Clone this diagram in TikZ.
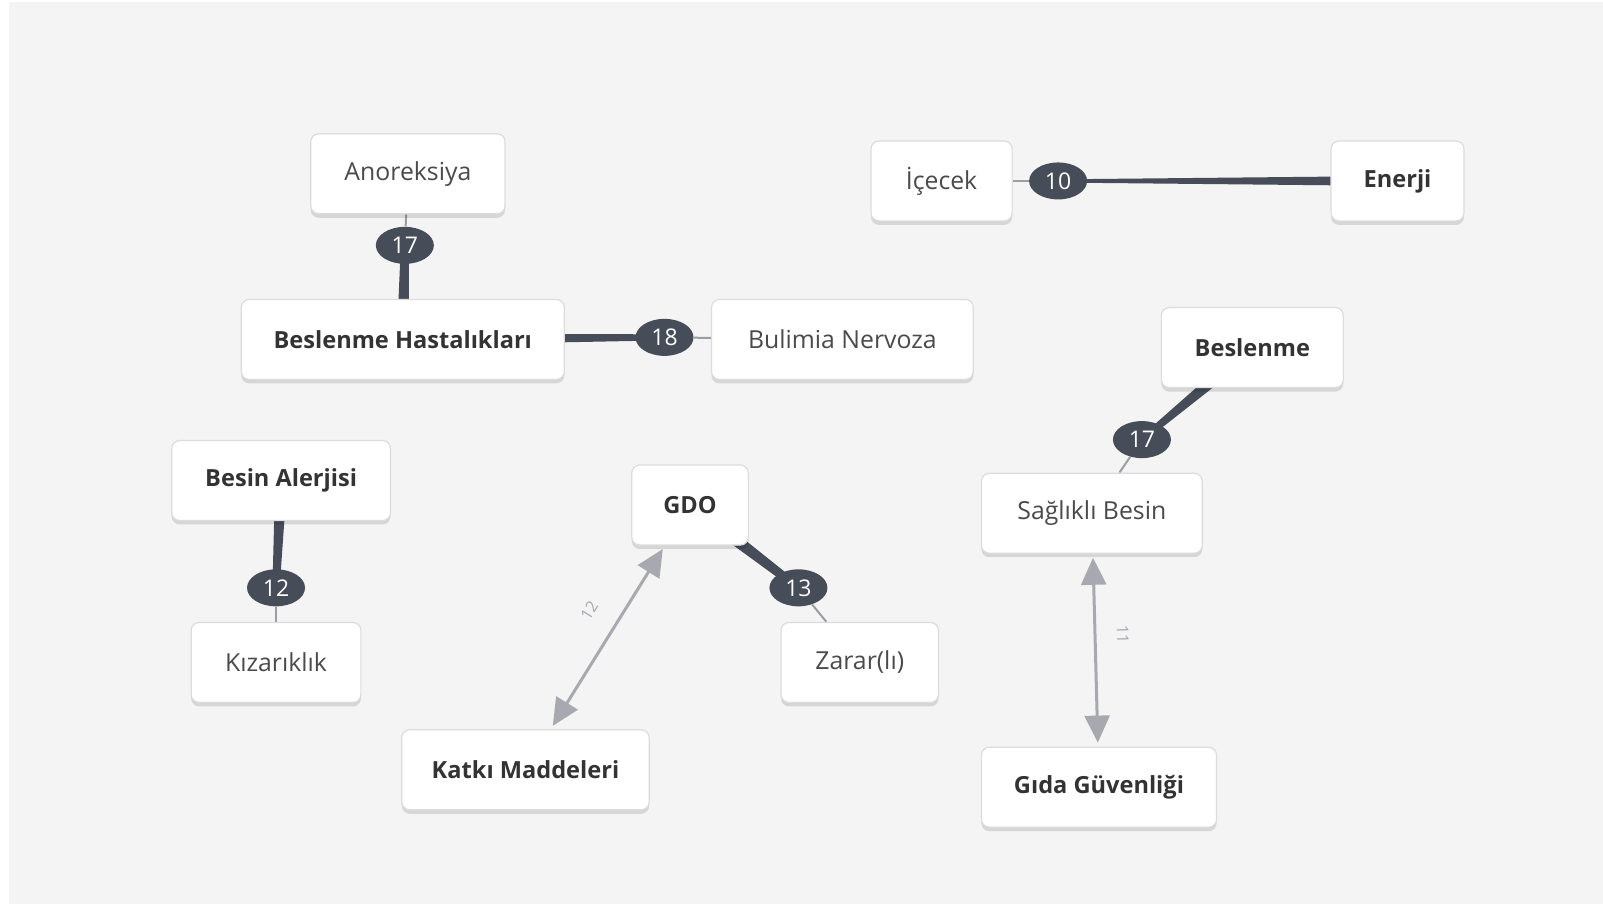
\documentclass[tikz,border=0pt]{standalone}
\usepackage{fontspec}
\setmainfont{Open Sans}
\usetikzlibrary{calc,arrows.meta,shapes.geometric,shadows,backgrounds}

\definecolor{canvas}{HTML}{F4F4F4}
\definecolor{badgefill}{HTML}{474C59}
\definecolor{linkgray}{HTML}{9A9DA3}
\definecolor{arrowgray}{HTML}{A8A9B0}
\definecolor{textdark}{HTML}{333333}
\definecolor{textsoft}{HTML}{4A4A4A}
\definecolor{boxline}{HTML}{DCDCDC}

\tikzstyle{concept}=[rectangle,rounded corners=4pt,draw=boxline,line width=0.6pt,
  fill=white,minimum height=40pt,inner sep=0pt,
  text=textsoft,font=\fontsize{12.4}{14}\selectfont,
  drop shadow={shadow xshift=0pt,shadow yshift=-2pt,opacity=0.12,fill=black}]
\tikzstyle{bold concept}=[concept,text=textdark,font=\fontsize{11.8}{14}\selectfont\bfseries]
\tikzstyle{badge}=[ellipse,fill=badgefill,text=white,minimum width=29pt,
  minimum height=18.5pt,inner sep=0pt,font=\fontsize{11.5}{13}\selectfont]
\tikzstyle{thin link}=[draw=linkgray,line width=1pt]
\tikzstyle{mutual edge}=[draw=arrowgray,line width=1.5pt,
  {Triangle[width=12.5pt,length=13.5pt]}-{Triangle[width=12.5pt,length=13.5pt]},
  shorten <=2pt,shorten >=2pt]
\tikzstyle{weight}=[font=\fontsize{8}{9}\selectfont,text=arrowgray,sloped]

% tapered connector: #1 wide end, #2 narrow end, half widths #3 and #4
\newcommand{\taper}[4]{%
  \fill[badgefill] ($(#1)!#3!90:(#2)$) -- ($(#1)!#3!-90:(#2)$)
    -- ($(#2)!#4!90:(#1)$) -- ($(#2)!#4!-90:(#1)$) -- cycle;}

\begin{document}
\begin{tikzpicture}[x=0.5112pt,y=-0.5112pt]
\useasboundingbox (0,0) rectangle (1568,884);
\begin{scope}[on background layer]
  \fill[white] (0,0) rectangle (1568,884);
  \fill[canvas] (9,2) rectangle (1568,884);
\end{scope}

\foreach \pos/\name/\txt/\w/\isbold in {{(399,170)/anor/Anoreksiya/95/0},
    {(394,332)/bhast/Beslenme Hastalıkları/158/1}, {(824,332)/bulim/Bulimia Nervoza/128/0},
    {(921,177)/icecek/İçecek/69/0}, {(1367,177)/enerji/Enerji/65/1},
    {(1225,340)/beslen/Beslenme/89/1}, {(1068,502)/saglik/Sağlıklı Besin/108/0},
    {(1075,770)/guven/Gıda Güvenliği/115/1}, {(275,470)/alerji/Besin Alerjisi/107/1},
    {(270,648)/kizar/Kızarıklık/83/0}, {(675,494)/gdo/GDO/57/1},
    {(841,648)/zarar/Zarar(lı)/77/0}, {(514,753)/katki/Katkı Maddeleri/121/1}}{
  \ifnum\isbold=0
  \node[concept,minimum width=1.0225*\w pt] (\name) at \pos {\txt};
  \else
  \node[bold concept,minimum width=1.0225*\w pt] (\name) at \pos {\txt};
  \fi
}

\foreach \pos/\name/\num in {{(396,240)/bA/17}, {(650,330)/bB/18}, {(1035,177)/bC/10},
    {(1117,430)/bD/17}, {(270,575)/bE/12}, {(781,575)/bF/13}}{
  \node[badge] (\name) at \pos {\num};
}

\begin{scope}[on background layer]
\foreach \strong/\bdg/\weak/\wa/\wb in {bhast/bA/anor/3pt/2pt, bhast/bB/bulim/3pt/1.5pt,
    enerji/bC/icecek/2.5pt/0.8pt, beslen/bD/saglik/3.5pt/1.5pt,
    alerji/bE/kizar/3pt/1.8pt, gdo/bF/zarar/3.5pt/2pt}{
  \taper{\strong}{\bdg}{\wa}{\wb}
  \path[thin link] (\bdg) -- (\weak);
}
\end{scope}

\path[mutual edge] (katki) -- node[weight,pos=0.56,above=8pt] {12} (gdo);
\path[mutual edge] (saglik) -- node[weight,pos=0.42,above=7pt] {11} (guven);
\end{tikzpicture}
\end{document}
